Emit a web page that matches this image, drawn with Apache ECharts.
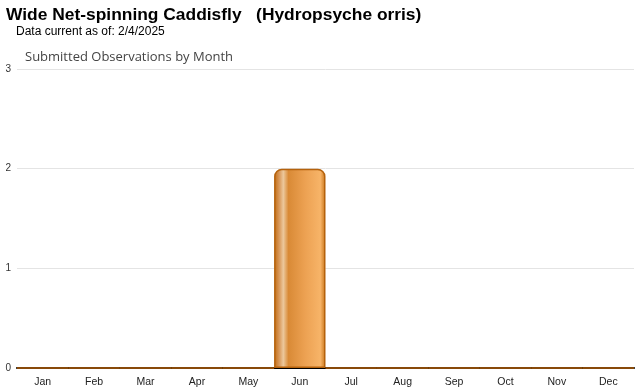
<!DOCTYPE html>
<html><head><meta charset="utf-8">
<script src="https://cdn.jsdelivr.net/npm/echarts@6/dist/echarts.min.js"></script>
<style>html,body{margin:0;padding:0;background:#fff}#c{width:640px;height:390px}</style>
</head><body><div id="c"></div>
<script>
const months = ['Jan','Feb','Mar','Apr','May','Jun','Jul','Aug','Sep','Oct','Nov','Dec'];
const observations = [0,0,0,0,0,2,0,0,0,0,0,0];
const yTicks = [0,1,2,3];
const chart = echarts.init(document.getElementById('c'));
const grad = new echarts.graphic.LinearGradient(0,0,1,0,[
  {offset:0, color:'#c0680e'},
  {offset:0.1, color:'#d8985a'},
  {offset:0.18, color:'#ecc89c'},
  {offset:0.28, color:'#d98a36'},
  {offset:0.6, color:'#eca152'},
  {offset:0.9, color:'#f7b468'},
  {offset:1, color:'#c87418'}
]);
chart.setOption({
  animation:false,
  title:[
    {text:'Wide Net-spinning Caddisfly   (Hydropsyche orris)', left:6, top:7, padding:0,
     textStyle:{fontFamily:'Liberation Sans, Arial', fontWeight:'bold', fontSize:17.4, color:'#000'}},
    {text:'Data current as of: 2/4/2025', left:16, top:26, padding:0,
     textStyle:{fontFamily:'Liberation Sans, Arial', fontWeight:'normal', fontSize:12, color:'#000'}},
    {text:'Submitted Observations by Month', left:25, top:51, padding:0,
     textStyle:{fontFamily:'Open Sans, sans-serif', fontWeight:'normal', fontSize:13, color:'#444'}}
  ],
  grid:{left:17, right:6, top:69, bottom:22},
  xAxis:{type:'category', data:months,
    axisLine:{lineStyle:{color:'#000', width:2}},
    axisTick:{alignWithLabel:true, length:5, lineStyle:{color:'#ccc'}},
    axisLabel:{color:'#222', fontSize:10.5, fontFamily:'Liberation Sans, Arial', margin:9}},
  yAxis:{type:'value', min:0, max:yTicks[yTicks.length-1], interval:1,
    axisLabel:{color:'#333', fontSize:10, fontFamily:'Liberation Sans, Arial', margin:6},
    splitLine:{lineStyle:{color:'#e4e4e4'}}},
  series:[{type:'bar', data:observations, barWidth:'100%', z:1,
    itemStyle:{color:grad, borderColor:'#b5620c', borderWidth:1.5, borderRadius:[7,7,0,0]}}]
});
</script></body></html>
